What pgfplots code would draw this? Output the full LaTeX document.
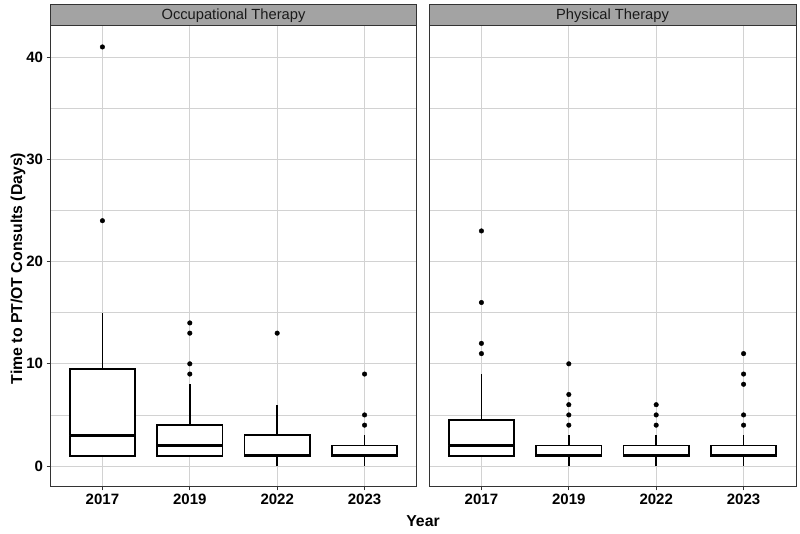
\documentclass[border=0pt]{standalone}
\usepackage{fontspec}
\setmainfont{Liberation Sans}
\usepackage{pgfplots}
\pgfplotsset{compat=1.18}
\usepgfplotslibrary{statistics}
\definecolor{gridc}{HTML}{D2D2D2}
\definecolor{stripc}{HTML}{A3A3A3}
\definecolor{framec}{HTML}{333333}
\definecolor{txtc}{HTML}{1A1A1A}

\pgfplotsset{
  facet/.style={
    scale only axis, width=367pt, height=461pt,
    anchor=south west,
    xmin=0.4, xmax=4.6, ymin=-2.05, ymax=43.05,
    xtick={1,2,3,4}, xticklabels={2017,2019,2022,2023},
    ytick={0,10,20,30,40}, minor ytick={5,15,25,35},
    grid=both,
    major grid style={gridc, line width=0.9pt},
    minor grid style={gridc, line width=0.6pt},
    axis line style={framec, line width=1pt},
    tick style={framec, line width=0.9pt},
    major tick length=3.5pt, minor tick length=0pt,
    tick align=outside,
    xtick pos=left, ytick pos=left,
    /pgf/number format/assume math mode=true,
    tick label style={font=\fontsize{15}{18}\selectfont\bfseries, text=black},
    boxplot/draw direction=y,
    boxplot/box extend=0.75,
    boxplot/whisker extend=0,
    boxplot/every box/.style={line width=1.8pt, fill=white},
    boxplot/every whisker/.style={line width=1.8pt},
    boxplot/every median/.style={line width=3.2pt},
  },
  bx/.style={black, solid, line width=1.8pt, fill=white, mark=*, mark size=2.3pt,
    mark options={fill=black, draw=black, solid, line width=0.4pt}},
  wh/.style={black, solid, line width=1.8pt, no marks, line cap=butt},
}

\begin{document}
\begin{tikzpicture}
\useasboundingbox (0,0) rectangle (800pt,534pt);

\begin{axis}[facet, name=L, at={(50pt,47pt)},
  ylabel={Time to PT/OT Consults (Days)},
  every axis y label/.style={at={(axis description cs:-0.0872,0.474)}, rotate=90, anchor=center,
    font=\fontsize{15.8}{18}\selectfont\bfseries},
]
\addplot[bx, boxplot prepared={draw position=1, lower whisker=1, lower quartile=1, median=3, upper quartile=9.5, upper whisker=15}]
  table[row sep=\\, y index=0] {data\\ 24\\ 41\\};
\addplot[bx, boxplot prepared={draw position=2, lower whisker=1, lower quartile=1, median=2, upper quartile=4, upper whisker=8}]
  table[row sep=\\, y index=0] {data\\ 9\\ 10\\ 13\\ 14\\};
\addplot[bx, boxplot prepared={draw position=3, lower whisker=0, lower quartile=1, median=1, upper quartile=3, upper whisker=6}]
  table[row sep=\\, y index=0] {data\\ 13\\};
\addplot[bx, boxplot prepared={draw position=4, lower whisker=0, lower quartile=1, median=1, upper quartile=2, upper whisker=3}]
  table[row sep=\\, y index=0] {data\\ 4\\ 5\\ 9\\};
% whiskers (upper and lower)
\addplot[wh] coordinates {(1,9.5) (1,15)};
\addplot[wh] coordinates {(2,4) (2,8)};
\addplot[wh] coordinates {(3,3) (3,6)};
\addplot[wh] coordinates {(3,0) (3,1)};
\addplot[wh] coordinates {(4,2) (4,3)};
\addplot[wh] coordinates {(4,0) (4,1)};
\end{axis}

\begin{axis}[facet, name=R, at={(429pt,47pt)}, yticklabels={}, ytick style={draw=none}]
\addplot[bx, boxplot prepared={draw position=1, lower whisker=1, lower quartile=1, median=2, upper quartile=4.5, upper whisker=9}]
  table[row sep=\\, y index=0] {data\\ 11\\ 12\\ 16\\ 23\\};
\addplot[bx, boxplot prepared={draw position=2, lower whisker=0, lower quartile=1, median=1, upper quartile=2, upper whisker=3}]
  table[row sep=\\, y index=0] {data\\ 4\\ 5\\ 6\\ 7\\ 10\\};
\addplot[bx, boxplot prepared={draw position=3, lower whisker=0, lower quartile=1, median=1, upper quartile=2, upper whisker=3}]
  table[row sep=\\, y index=0] {data\\ 4\\ 5\\ 6\\};
\addplot[bx, boxplot prepared={draw position=4, lower whisker=0, lower quartile=1, median=1, upper quartile=2, upper whisker=3}]
  table[row sep=\\, y index=0] {data\\ 4\\ 5\\ 8\\ 9\\ 11\\};
\addplot[wh] coordinates {(1,4.5) (1,9)};
\addplot[wh] coordinates {(2,2) (2,3)};
\addplot[wh] coordinates {(2,0) (2,1)};
\addplot[wh] coordinates {(3,2) (3,3)};
\addplot[wh] coordinates {(3,0) (3,1)};
\addplot[wh] coordinates {(4,2) (4,3)};
\addplot[wh] coordinates {(4,0) (4,1)};
\end{axis}

\draw[fill=stripc, draw=framec, line width=1pt] (L.north west) rectangle ([yshift=21.5pt]L.north east);
\node[font=\fontsize{14.7}{17}\selectfont, text=txtc] at ([yshift=10.75pt]L.north) {Occupational Therapy};
\draw[fill=stripc, draw=framec, line width=1pt] (R.north west) rectangle ([yshift=21.5pt]R.north east);
\node[font=\fontsize{14.7}{17}\selectfont, text=txtc] at ([yshift=10.75pt]R.north) {Physical Therapy};

\node[font=\fontsize{15.8}{18}\selectfont\bfseries] at (423pt,13pt) {Year};
\end{tikzpicture}
\end{document}
